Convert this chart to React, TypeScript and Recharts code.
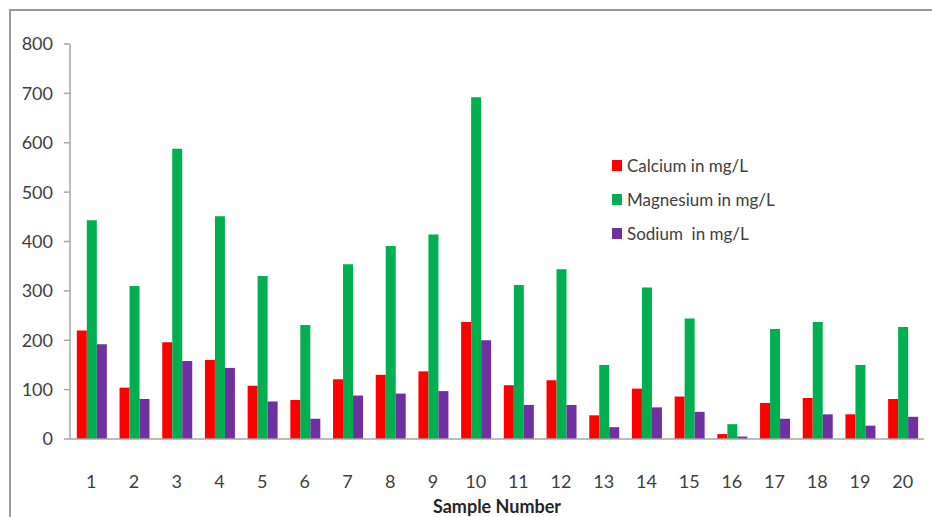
import React from "react";
import { BarChart, Bar, XAxis, YAxis } from "recharts";

const samples = ["1","2","3","4","5","6","7","8","9","10","11","12","13","14","15","16","17","18","19","20"];
const calcium = [220,104,196,160,108,79,121,130,137,237,109,119,48,102,86,10,73,83,50,81];
const magnesium = [443,310,588,451,330,231,354,391,414,692,312,344,150,307,244,30,223,237,150,227];
const sodium = [192,81,158,144,76,41,88,92,97,200,69,69,24,64,55,5,41,50,27,45];
const yTicks = [0,100,200,300,400,500,600,700,800];

const data = samples.map((s, i) => ({
  sample: s,
  calcium: calcium[i],
  magnesium: magnesium[i],
  sodium: sodium[i],
}));

const series = [
  { key: "calcium", name: "Calcium in mg/L", color: "#FF0000" },
  { key: "magnesium", name: "Magnesium in mg/L", color: "#00B050" },
  { key: "sodium", name: "Sodium  in mg/L", color: "#7030A0" },
];

const FONT = "Lato, 'Open Sans', sans-serif";

export default function App() {
  return (
    <div style={{ position: "absolute", left: 0, top: 0, width: 932, height: 517, background: "#fff", overflow: "hidden" }}>
      <div style={{ position: "absolute", left: 9, top: 9, width: 940, height: 600, border: "2px solid #9a9a9a", boxSizing: "border-box" }} />
      <div style={{ position: "absolute", left: 0, top: 0 }}>
        <BarChart
          width={932}
          height={517}
          data={data}
          margin={{ top: 44, right: 8, bottom: 0, left: 10 }}
          barCategoryGap="16%"
          barGap={0}
        >
          <XAxis
            dataKey="sample"
            height={78}
            tickLine={false}
            axisLine={{ stroke: "#A6A6A6", strokeWidth: 1.5 }}
            tick={{ fill: "#404040", fontSize: 18, fontFamily: FONT }}
            tickMargin={30}
            interval={0}
            label={{ value: "Sample Number", position: "insideBottom", offset: 4, fill: "#262626", fontSize: 18, fontWeight: 700, fontFamily: FONT }}
          />
          <YAxis
            width={60}
            domain={[0, 800]}
            ticks={yTicks}
            interval={0}
            axisLine={{ stroke: "#A6A6A6", strokeWidth: 1.5 }}
            tickLine={{ stroke: "#A6A6A6", strokeWidth: 1.5 }}
            tickSize={6}
            tickMargin={11}
            tick={{ fill: "#404040", fontSize: 18, fontFamily: FONT }}
          />
          {series.map((s) => (
            <Bar key={s.key} dataKey={s.key} name={s.name} fill={s.color} isAnimationActive={false} />
          ))}
        </BarChart>
      </div>
      <div style={{ position: "absolute", left: 612, top: 148, fontFamily: FONT, fontSize: 17, color: "#404040" }}>
        {series.map((s) => (
          <div key={s.key} style={{ display: "flex", alignItems: "center", height: 34 }}>
            <span style={{ display: "inline-block", width: 10, height: 11, background: s.color, marginRight: 5 }} />
            <span style={{ whiteSpace: "pre" }}>{s.name}</span>
          </div>
        ))}
      </div>
    </div>
  );
}
